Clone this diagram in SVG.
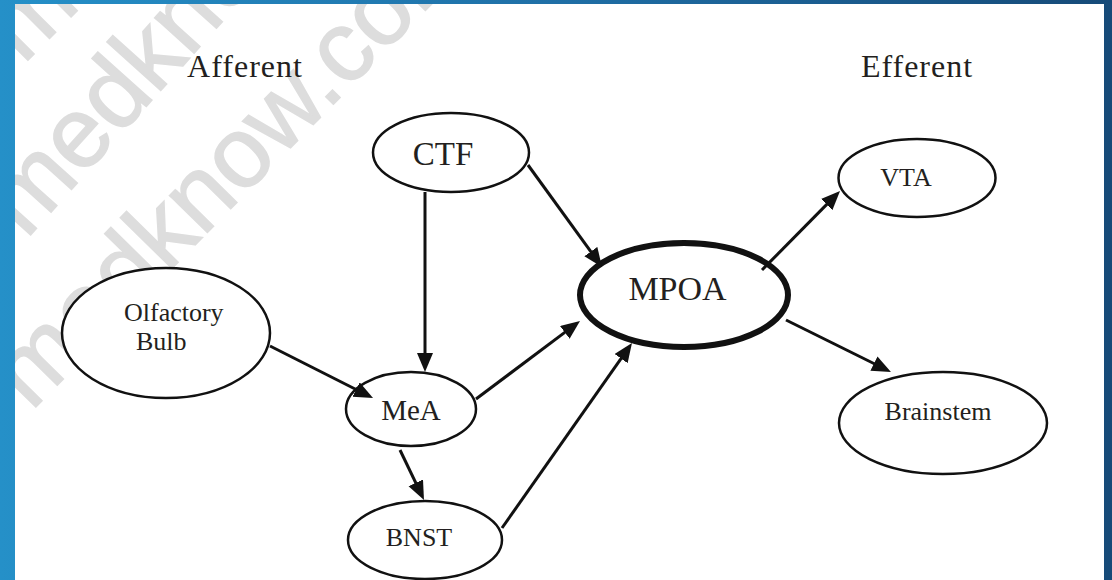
<svg xmlns="http://www.w3.org/2000/svg" width="1112" height="580" viewBox="0 0 1112 580">
<defs>
<linearGradient id="bg" x1="0" y1="0" x2="1" y2="0">
<stop offset="0" stop-color="#2590c8"/>
<stop offset="0.5" stop-color="#1f6fa6"/>
<stop offset="1" stop-color="#164a78"/>
</linearGradient>
<clipPath id="panel"><rect x="15" y="4" width="1089" height="576"/></clipPath>
<marker id="ah" markerUnits="userSpaceOnUse" markerWidth="22" markerHeight="18" refX="10" refY="8" orient="auto">
<path d="M0,0 L19,8 L0,16 z" fill="#111"/>
</marker>
<style>
.node ellipse{fill:#fff;stroke:#111;stroke-width:2.5}
.lbl{font-family:'Liberation Serif','Times New Roman',serif;fill:#231f20}
.wm{font-family:'Liberation Sans',Arial,sans-serif;font-size:100px;fill:#dddddd;stroke:#dddddd;stroke-width:1.5}
#connectors line{stroke:#111;stroke-width:3;marker-end:url(#ah)}
</style>
</defs>
<rect x="0" y="0" width="1112" height="580" fill="url(#bg)"/>
<rect x="15" y="4" width="1089" height="576" fill="#fff"/>
<g id="watermark" clip-path="url(#panel)">
<text class="wm" transform="translate(23,65) rotate(-45)">medknow.com</text>
<text class="wm" transform="translate(26,240) rotate(-48)">medknow.com</text>
<text class="wm" transform="translate(31,412) rotate(-45.5)">medknow.com</text>
</g>
<g id="headers">
<text class="lbl" font-family="Liberation Serif, serif" x="245" y="77" font-size="32" letter-spacing="1" text-anchor="middle">Afferent</text>
<text class="lbl" font-family="Liberation Serif, serif" x="917" y="77" font-size="32" letter-spacing="1" text-anchor="middle">Efferent</text>
</g>
<g id="node-ctf" class="node">
<ellipse cx="451" cy="152.5" rx="78" ry="39.5"/>
<text class="lbl" font-family="Liberation Serif, serif" x="443" y="165" font-size="33" text-anchor="middle">CTF</text>
</g>
<g id="node-olfactory" class="node">
<ellipse cx="166" cy="333" rx="104" ry="65"/>
<text class="lbl" font-family="Liberation Serif, serif" x="124" y="321" font-size="26">Olfactory</text>
<text class="lbl" font-family="Liberation Serif, serif" x="136" y="350" font-size="26">Bulb</text>
</g>
<g id="node-mea" class="node">
<ellipse cx="411" cy="409" rx="65" ry="37"/>
<text class="lbl" font-family="Liberation Serif, serif" x="411" y="420" font-size="29" text-anchor="middle">MeA</text>
</g>
<g id="node-bnst" class="node">
<ellipse cx="425" cy="540" rx="77" ry="39"/>
<text class="lbl" font-family="Liberation Serif, serif" x="419" y="546" font-size="26" text-anchor="middle">BNST</text>
</g>
<g id="node-mpoa" class="node">
<ellipse cx="684" cy="295" rx="104" ry="52" style="stroke-width:6"/>
<text class="lbl" font-family="Liberation Serif, serif" x="677.5" y="300" font-size="34" text-anchor="middle">MPOA</text>
</g>
<g id="node-vta" class="node">
<ellipse cx="917" cy="178" rx="78.5" ry="39"/>
<text class="lbl" font-family="Liberation Serif, serif" x="906" y="186" font-size="26" text-anchor="middle">VTA</text>
</g>
<g id="node-brainstem" class="node">
<ellipse cx="943" cy="423" rx="104" ry="51"/>
<text class="lbl" font-family="Liberation Serif, serif" x="938" y="420" font-size="26" text-anchor="middle">Brainstem</text>
</g>
<g id="connectors">
<line x1="425" y1="192" x2="425" y2="363"/>
<line x1="528" y1="165" x2="596.7" y2="259.7"/>
<line x1="270" y1="346" x2="365" y2="394"/>
<line x1="476" y1="399" x2="572.8" y2="326.4"/>
<line x1="502" y1="528" x2="626.8" y2="350.4"/>
<line x1="400" y1="450" x2="420.1" y2="491.9"/>
<line x1="762" y1="270" x2="833.7" y2="197.4"/>
<line x1="786" y1="320" x2="882.9" y2="368"/>
</g>
</svg>
